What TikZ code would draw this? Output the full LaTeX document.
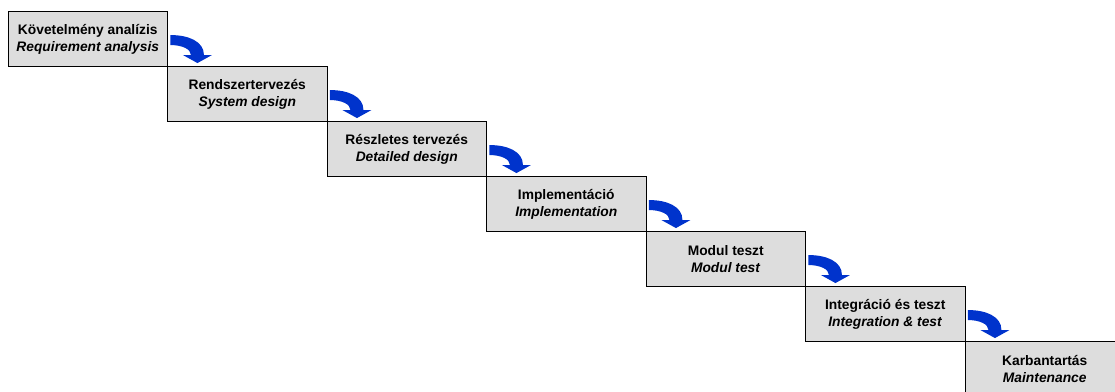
\documentclass[tikz,border=0pt]{standalone}
\usepackage{fontspec}
\setmainfont{Liberation Sans}
\begin{document}
\begin{tikzpicture}[x=1pt,y=-1pt,
  phase/.style={draw=black, line width=0.9pt, fill=phasegray, minimum width=159.5pt,
    minimum height=55pt, inner sep=0pt, align=center,
    font=\fontsize{13.8pt}{17pt}\selectfont\bfseries},
  flowarrow/.style={fill=flowblue, draw=none}]
\definecolor{phasegray}{RGB}{221,221,221}
\definecolor{flowblue}{RGB}{0,51,204}
\useasboundingbox (0,0) rectangle (1115,391);
\clip (0,0) rectangle (1115,391);
% cascade of phases, each one step down and to the right
\node[phase] (b1) at (87.75,39)   {Követelmény analízis\\\textit{Requirement analysis}};
\node[phase] (b2) at (247.25,94)  {Rendszertervezés\\\textit{System design}};
\node[phase] (b3) at (406.75,149) {Részletes tervezés\\\textit{Detailed design}};
\node[phase] (b4) at (566.25,204) {Implementáció\\\textit{Implementation}};
\node[phase] (b5) at (725.75,259) {Modul teszt\\\textit{Modul test}};
\node[phase] (b6) at (885.25,314) {Integráció és teszt\\\textit{Integration \& test}};
\node[phase] (b7) at (1044.75,369) {Karbantartás\\\textit{Maintenance}};
% curved block arrows leaving each phase towards the next one
\foreach \a in {b1,b2,b3,b4,b5,b6}{
  \begin{scope}[shift={(\a.north east)}]
    \fill[flowarrow] (2.5,24) .. controls (20,24) and (36,30) .. (36,44)
      -- (44,44) -- (29.5,52) -- (15,44) -- (23,44)
      .. controls (23,38) and (14,34) .. (2.5,34) -- cycle;
  \end{scope}
}
\end{tikzpicture}
\end{document}
